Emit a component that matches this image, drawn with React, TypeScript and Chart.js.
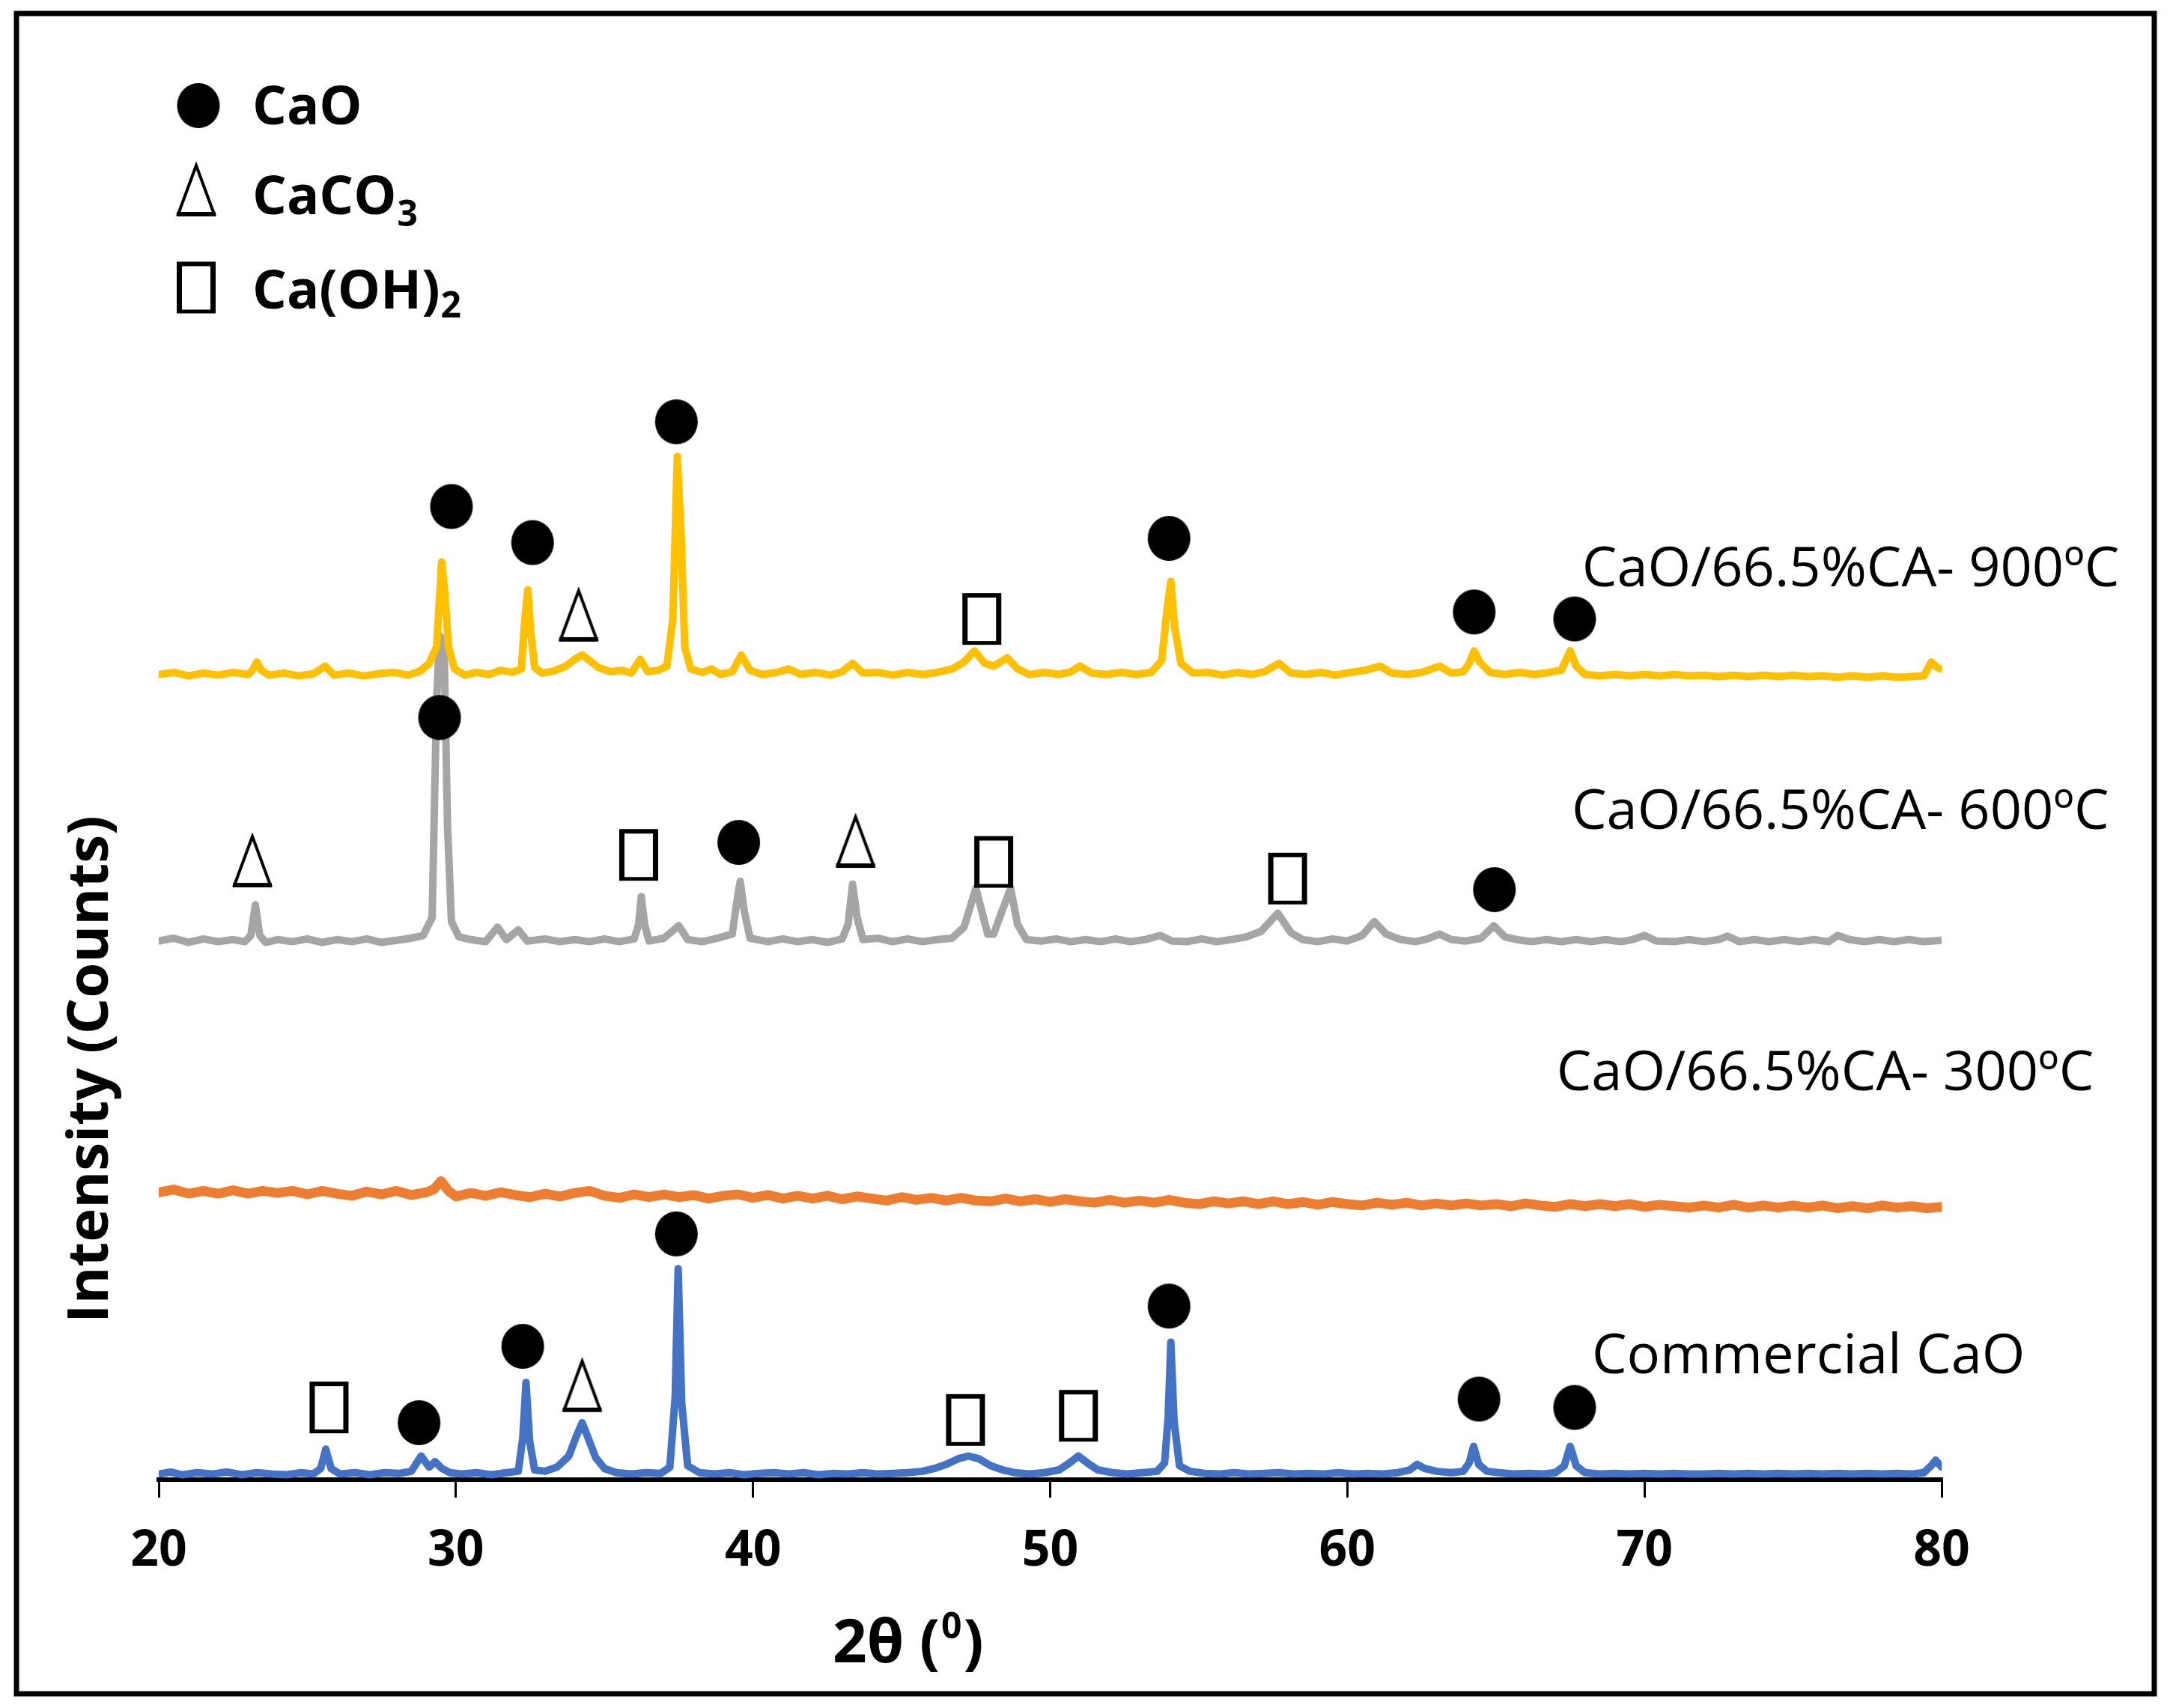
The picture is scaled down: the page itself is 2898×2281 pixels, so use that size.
import React, { useEffect, useRef } from 'react';
import { Chart, registerables } from 'chart.js';

Chart.register(...registerables);

const FONT = "'Open Sans', 'DejaVu Sans', sans-serif";

// ---------- data ----------
const xTickValues = [20, 30, 40, 50, 60, 70, 80];

// [2θ, offset intensity]
const commercialCaO: [number, number][] = [
  [20, 4], [20.4, 5.5], [20.8, 3.5], [21.3, 5], [21.8, 4], [22.3, 5.5], [22.8, 3.5], [23.3, 5], [23.8, 4], [24.3, 3.5],
  [24.8, 5], [25.2, 4], [25.45, 8], [25.62, 22], [25.8, 8], [26.1, 4], [26.6, 5], [27.1, 3.5], [27.6, 5], [28.1, 4.5],
  [28.5, 6], [28.83, 17], [29.1, 9], [29.3, 13], [29.53, 8], [29.8, 5], [30.2, 4], [30.7, 5], [31.2, 3.5], [31.7, 5],
  [32.1, 6], [32.25, 30], [32.36, 70], [32.48, 28], [32.65, 7], [33.0, 6], [33.4, 9], [33.8, 17], [34.05, 31], [34.25, 41],
  [34.45, 30], [34.7, 16], [35.0, 8], [35.4, 5], [35.9, 4], [36.4, 5], [36.9, 4.5], [37.2, 9], [37.38, 60], [37.48, 152],
  [37.6, 55], [37.8, 10], [38.2, 5], [38.7, 4], [39.2, 5], [39.7, 3.5], [40.2, 4.5], [40.7, 5], [41.2, 4], [41.7, 5],
  [42.2, 3.5], [42.7, 4.5], [43.2, 4], [43.7, 5], [44.2, 4], [44.7, 4.5], [45.2, 5], [45.7, 6], [46.1, 8], [46.5, 11],
  [46.9, 15], [47.25, 17], [47.6, 15], [48.0, 10], [48.4, 7], [48.8, 5], [49.3, 4], [49.8, 5], [50.3, 7], [50.65, 12],
  [50.95, 17], [51.25, 12], [51.6, 7], [52.1, 5], [52.6, 4], [53.1, 5], [53.6, 6], [53.85, 12], [53.97, 45], [54.06, 99],
  [54.17, 42], [54.35, 10], [54.7, 6], [55.2, 4.5], [55.7, 4], [56.2, 5], [56.7, 4], [57.2, 4.5], [57.7, 5], [58.2, 4],
  [58.7, 4.5], [59.2, 4], [59.7, 5], [60.2, 4], [60.7, 4.5], [61.2, 4], [61.7, 5], [62.1, 7], [62.35, 11], [62.6, 8],
  [63.0, 6], [63.5, 5], [63.9, 6], [64.1, 12], [64.25, 24], [64.42, 11], [64.7, 6], [65.1, 5], [65.6, 4], [66.1, 4.5],
  [66.6, 4], [67.0, 5], [67.3, 10], [67.5, 24], [67.7, 10], [68.0, 5], [68.5, 4], [69, 4.5], [69.5, 4], [70, 4.5],
  [70.5, 4], [71, 4.5], [71.5, 4], [72, 4], [72.5, 4.5], [73, 4], [73.5, 4.5], [74, 4], [74.5, 4.5], [75, 4],
  [75.5, 4.5], [76, 4], [76.5, 4.5], [77, 4], [77.5, 4.5], [78, 4], [78.5, 4.5], [79, 4], [79.4, 5], [79.65, 10],
  [79.8, 14], [80, 9],
];

const calcined300: [number, number][] = [
  [20, 207], [20.5, 209], [21, 206], [21.5, 208], [22, 206], [22.5, 208.5], [23, 206], [23.5, 208], [24, 206.5], [24.5, 208],
  [25, 205.5], [25.5, 208], [26, 206], [26.5, 204.5], [27, 207.5], [27.5, 205.5], [28, 208], [28.5, 205], [29, 207], [29.25, 209],
  [29.5, 215], [29.75, 208], [30, 204], [30.5, 206.5], [31, 204.5], [31.5, 207], [32, 205], [32.5, 203.5], [33, 206], [33.5, 204],
  [34, 206.5], [34.5, 208], [35, 204.5], [35.5, 203], [36, 205.5], [36.5, 203.5], [37, 205.5], [37.5, 203.5], [38, 205], [38.5, 202.5],
  [39, 204.5], [39.5, 205.5], [40, 203], [40.5, 205], [41, 202.5], [41.5, 204.5], [42, 202.5], [42.5, 204.5], [43, 202], [43.5, 204],
  [44, 202.5], [44.5, 201], [45, 203.5], [45.5, 201.5], [46, 203], [46.5, 201], [47, 203], [47.5, 201], [48, 200.5], [48.5, 202.5],
  [49, 200.5], [49.5, 202], [50, 200], [50.5, 202], [51, 200.5], [51.5, 199.5], [52, 201.5], [52.5, 199.5], [53, 201], [53.5, 199.5],
  [54, 201.5], [54.5, 199.5], [55, 198.5], [55.5, 200.5], [56, 199], [56.5, 200.5], [57, 198.5], [57.5, 200.5], [58, 198.5], [58.5, 200],
  [59, 198], [59.5, 200], [60, 198.5], [60.5, 197.5], [61, 199.5], [61.5, 198], [62, 199.5], [62.5, 197.5], [63, 199], [63.5, 197.5],
  [64, 199], [64.5, 197.5], [65, 198.5], [65.5, 197], [66, 199], [66.5, 197.5], [67, 196.5], [67.5, 198.5], [68, 197], [68.5, 198.5],
  [69, 197], [69.5, 198.5], [70, 196.5], [70.5, 198], [71, 197], [71.5, 196], [72, 197.5], [72.5, 196], [73, 198], [73.5, 196],
  [74, 197.5], [74.5, 196], [75, 197.5], [75.5, 196], [76, 197.5], [76.5, 195.5], [77, 197], [77.5, 195.5], [78, 197.5], [78.5, 196],
  [79, 197], [79.5, 195.5], [80, 196.5],
];

const calcined600: [number, number][] = [
  [20, 388], [20.5, 390], [21, 387], [21.5, 389.5], [22, 387.5], [22.5, 389], [22.9, 387.5], [23.1, 392], [23.25, 414], [23.4, 392],
  [23.6, 387], [24, 389], [24.5, 387.5], [25, 389.5], [25.5, 387], [26, 389], [26.5, 387.5], [27, 389.5], [27.5, 387], [28, 388.5],
  [28.5, 390], [28.9, 392], [29.2, 405], [29.35, 560], [29.45, 608], [29.6, 604], [29.72, 470], [29.85, 402], [30.1, 391], [30.5, 389],
  [31, 387.5], [31.4, 398], [31.7, 389], [32.1, 396], [32.4, 388], [33, 389.5], [33.5, 387.5], [34, 389], [34.5, 387.5], [35, 389.5],
  [35.5, 387.5], [36, 389.5], [36.15, 400], [36.24, 420], [36.35, 400], [36.5, 388], [37, 390], [37.5, 399], [37.8, 389], [38.3, 387.5],
  [38.8, 390], [39.3, 393], [39.48, 420], [39.57, 431], [39.7, 410], [39.9, 390], [40.5, 387.5], [41, 389.5], [41.5, 387.5], [42, 389],
  [42.5, 387], [43, 389.5], [43.2, 400], [43.35, 429], [43.5, 405], [43.7, 389], [44.2, 390], [44.7, 387.5], [45.2, 389.5], [45.7, 387.5],
  [46.2, 389], [46.7, 390], [47.1, 398], [47.5, 426], [47.9, 393], [48.1, 393], [48.3, 405], [48.67, 426], [48.9, 400], [49.2, 389],
  [49.7, 388], [50.2, 389.5], [50.7, 387.5], [51.2, 389], [51.7, 387.5], [52.2, 389.5], [52.7, 387.5], [53.2, 389], [53.7, 392], [54.1, 388],
  [54.6, 387.5], [55.1, 389.5], [55.6, 387.5], [56.1, 389], [56.6, 391], [57.1, 395], [57.66, 408], [58.1, 394], [58.5, 389], [59, 387.5],
  [59.5, 389.5], [60, 388], [60.5, 392], [60.91, 402], [61.3, 393], [61.8, 389], [62.3, 387.5], [62.7, 389.5], [63.1, 393], [63.5, 389],
  [64, 388], [64.5, 390], [64.93, 399], [65.3, 391], [65.7, 389], [66.2, 387.5], [66.7, 389], [67.2, 387.5], [67.7, 389], [68.2, 387.5],
  [68.7, 389], [69.2, 387.5], [69.6, 389], [70.0, 392], [70.4, 388], [71, 387.5], [71.5, 389], [72, 387.5], [72.5, 389], [72.8, 391.5],
  [73.2, 387.5], [73.7, 389], [74.2, 387.5], [74.7, 389], [75.2, 387.5], [75.7, 389], [76.2, 387.5], [76.5, 392], [76.9, 389], [77.4, 387.5],
  [77.9, 389], [78.4, 387.5], [78.9, 389], [79.4, 387.5], [80, 388.5],
];

const calcined900: [number, number][] = [
  [20, 580], [20.5, 581.5], [21, 579], [21.5, 581], [22, 579.5], [22.5, 581.5], [23, 580], [23.15, 583], [23.3, 589], [23.45, 583],
  [23.7, 579.5], [24.2, 581], [24.7, 579], [25.2, 580.5], [25.6, 586], [25.9, 579.5], [26.4, 581], [26.9, 579], [27.4, 580.5], [27.9, 581.5],
  [28.4, 579.5], [28.8, 582.5], [29.1, 588], [29.35, 600], [29.52, 661], [29.62, 640], [29.75, 600], [29.95, 584], [30.3, 579.5], [30.7, 581.5],
  [31.1, 580], [31.5, 583], [31.9, 581.5], [32.2, 584], [32.32, 620], [32.42, 641], [32.52, 610], [32.65, 585], [32.9, 581], [33.3, 582.5],
  [33.7, 586], [34.0, 591], [34.25, 594], [34.5, 590], [34.8, 585], [35.2, 582], [35.6, 583], [35.9, 581], [36.2, 591], [36.45, 582],
  [36.8, 583], [37.1, 586], [37.3, 620], [37.45, 737], [37.58, 680], [37.7, 600], [37.9, 584], [38.3, 581.5], [38.6, 584], [38.9, 580],
  [39.3, 582], [39.6, 594], [39.9, 583], [40.3, 580], [40.8, 581.5], [41.2, 584], [41.6, 580], [42.1, 581.5], [42.6, 579.5], [43.0, 582],
  [43.35, 588], [43.7, 581], [44.2, 581.5], [44.7, 579.5], [45.2, 581.5], [45.7, 580], [46.2, 581.5], [46.7, 584], [47.1, 589], [47.45, 597],
  [47.8, 588], [48.1, 586], [48.55, 592], [48.9, 584], [49.3, 580], [49.8, 581.5], [50.3, 580], [50.7, 582], [51.0, 586], [51.4, 581],
  [51.9, 580], [52.4, 581.5], [52.9, 580], [53.4, 581.5], [53.75, 590], [53.95, 630], [54.06, 647], [54.18, 615], [54.4, 588], [54.8, 581],
  [55.3, 581.5], [55.8, 579.5], [56.3, 581.5], [56.8, 580], [57.2, 582], [57.7, 588], [58.1, 581], [58.6, 580], [59.1, 581.5], [59.6, 579.5],
  [60.1, 581.5], [60.6, 583], [61.1, 586], [61.5, 581], [62, 580], [62.5, 581.5], [63.1, 586], [63.5, 581], [63.9, 582], [64.1, 588],
  [64.27, 597], [64.45, 589], [64.8, 581.5], [65.3, 580], [65.8, 581.5], [66.3, 580], [66.8, 581.5], [67.2, 583], [67.5, 597], [67.7, 586],
  [68, 580], [68.5, 579], [69, 580], [69.5, 579], [70, 580], [70.5, 579], [71, 580], [71.5, 579], [72, 579.5], [72.5, 578.5],
  [73, 579.5], [73.5, 578.5], [74, 579.5], [74.5, 578.5], [75, 579.5], [75.5, 578.5], [76, 579], [76.5, 578], [77, 579], [77.5, 578],
  [78, 579], [78.5, 578], [79, 578.5], [79.4, 579], [79.65, 589], [79.85, 585], [80, 584],
];

const seriesNames = ['Commercial CaO', 'CaO/66.5%CA- 300ºC', 'CaO/66.5%CA- 600ºC', 'CaO/66.5%CA- 900ºC'];
const seriesColors = ['#4472C4', '#ED7D31', '#A5A5A5', '#FFC000'];
const seriesWidths = [10, 13, 10, 10];
// label anchors: [2θ of left edge, intensity at text middle]
const seriesLabelAnchors: [number, number][] = [[68.23, 91], [67.04, 295], [67.55, 483], [67.9, 658]];

// phase markers [2θ, intensity]
const caoMarks: [number, number][] = [
  [29.85, 701], [32.58, 675], [37.42, 762], [54.0, 678], [64.27, 625], [67.65, 620],
  [29.45, 549], [39.52, 459], [64.95, 425],
  [28.76, 41], [32.25, 96], [37.42, 177], [54.0, 125], [64.43, 58], [67.65, 52],
];
const caco3Marks: [number, number][] = [
  [34.13, 622],
  [23.15, 445], [43.45, 459],
  [34.25, 67],
];
const caoh2Marks: [number, number][] = [
  [47.7, 620],
  [36.15, 450], [48.1, 445], [57.99, 433],
  [25.73, 52], [47.15, 43], [50.95, 46],
];

const phaseLabels = ['CaO', 'CaCO', 'Ca(OH)'];
const phaseSubscripts = ['', '3', '2'];

const xTitle = ['2θ (', '0', ')'];
const yTitle = 'Intensity (Counts)';

// ---------- marker shapes ----------
function makeEllipse(w: number, h: number) {
  const c = document.createElement('canvas');
  c.width = w + 2; c.height = h + 2;
  const g = c.getContext('2d')!;
  g.fillStyle = '#000';
  g.beginPath();
  g.ellipse(c.width / 2, c.height / 2, w / 2, h / 2, 0, 0, Math.PI * 2);
  g.fill();
  return c;
}
function makeTriangle(w: number, h: number) {
  const pad = 5;
  const c = document.createElement('canvas');
  c.width = w + pad * 2; c.height = h + pad * 2;
  const g = c.getContext('2d')!;
  g.strokeStyle = '#000';
  g.lineJoin = 'miter';
  g.lineWidth = 4;
  g.beginPath();
  g.moveTo(pad + w / 2, pad);
  g.lineTo(pad + 2, pad + h - 3);
  g.lineTo(pad + w - 2, pad + h - 3);
  g.closePath();
  g.stroke();
  g.lineWidth = 6;
  g.beginPath();
  g.moveTo(pad, pad + h - 3);
  g.lineTo(pad + w, pad + h - 3);
  g.stroke();
  return c;
}
function makeBox(w: number, h: number) {
  const pad = 2;
  const c = document.createElement('canvas');
  c.width = w + pad * 2; c.height = h + pad * 2;
  const g = c.getContext('2d')!;
  g.fillStyle = '#000';
  g.fillRect(pad, pad, w, h);
  g.clearRect(pad + 7, pad + 5.5, w - 14, h - 11);
  return c;
}

export default function App() {
  const ref = useRef<HTMLCanvasElement>(null);

  useEffect(() => {
    const canvas = ref.current!;
    const circleImg = makeEllipse(57, 60);
    const triImg = makeTriangle(52, 68);
    const boxImg = makeBox(52, 69);
    const legendImgs = [circleImg, triImg, boxImg];

    const toXY = (arr: [number, number][]) => arr.map(([x, y]) => ({ x, y }));
    const series = [commercialCaO, calcined300, calcined600, calcined900];

    const lineSets = series.map((d, i) => ({
      label: seriesNames[i],
      data: toXY(d),
      borderColor: seriesColors[i],
      backgroundColor: seriesColors[i],
      borderWidth: seriesWidths[i],
      borderJoinStyle: 'round' as const,
      borderCapStyle: 'round' as const,
      pointRadius: 0,
      tension: 0,
      fill: false,
      order: 4 - i,
    }));

    const markSets = [caoMarks, caco3Marks, caoh2Marks].map((d, i) => ({
      label: phaseLabels[i] + phaseSubscripts[i],
      data: toXY(d),
      showLine: false,
      pointStyle: legendImgs[i] as any,
      pointRadius: 10,
      borderWidth: 0,
      order: 0,
    }));

    const decor = {
      id: 'decor',
      beforeDraw(chart: any) {
        const c = chart.ctx;
        c.save();
        c.fillStyle = '#fff';
        c.fillRect(0, 0, chart.width, chart.height);
        c.restore();
      },
      afterDraw(chart: any) {
        const c = chart.ctx as CanvasRenderingContext2D;
        const xs = chart.scales.x;
        const ys = chart.scales.y;
        c.save();
        // outer frame
        c.strokeStyle = '#000';
        c.lineWidth = 7;
        c.strokeRect(22, 18, 2855, 2244);

        // legend
        const symCenters = [[265, 141], [262, 255], [262, 384]];
        const baselines = [166, 286, 412];
        const subBaselines = [0, 302, 424];
        c.fillStyle = '#000';
        c.textAlign = 'left';
        c.textBaseline = 'alphabetic';
        for (let i = 0; i < 3; i++) {
          const img = legendImgs[i];
          c.drawImage(img, symCenters[i][0] - img.width / 2, symCenters[i][1] - img.height / 2);
          c.font = `bold 72px ${FONT}`;
          c.fillText(phaseLabels[i], 337, baselines[i]);
          if (phaseSubscripts[i]) {
            const w = c.measureText(phaseLabels[i]).width;
            c.font = `bold 48px ${FONT}`;
            c.fillText(phaseSubscripts[i], 337 + w + 1, subBaselines[i]);
          }
        }

        // series labels
        c.font = `74px ${FONT}`;
        for (let i = 0; i < seriesNames.length; i++) {
          const [ax, ay] = seriesLabelAnchors[i];
          c.fillText(seriesNames[i], xs.getPixelForValue(ax), ys.getPixelForValue(ay) + 0.357 * 74);
        }

        // y title
        c.save();
        c.translate(144, 1428);
        c.rotate(-Math.PI / 2);
        c.textAlign = 'center';
        c.font = `bold 76px ${FONT}`;
        c.fillText(yTitle, 0, 0);
        c.restore();

        // x title with superscript
        let tx = 1112;
        c.font = `bold 80px ${FONT}`;
        c.fillText(xTitle[0], tx, 2220);
        tx += c.measureText(xTitle[0]).width + 2;
        c.font = `bold 48px ${FONT}`;
        c.fillText(xTitle[1], tx, 2188);
        tx += c.measureText(xTitle[1]).width + 2;
        c.font = `bold 80px ${FONT}`;
        c.fillText(xTitle[2], tx, 2220);
        c.restore();
      },
    };

    const chart = new Chart(canvas, {
      type: 'line',
      data: { datasets: [...markSets, ...lineSets] as any },
      options: {
        responsive: false,
        animation: false,
        devicePixelRatio: 1,
        events: [],
        layout: { padding: { left: 212, right: 305, top: 85, bottom: 135.8 } },
        plugins: {
          legend: { display: false },
          tooltip: { enabled: false },
          title: { display: false },
        },
        scales: {
          x: {
            type: 'linear',
            min: 20,
            max: 80,
            afterBuildTicks: (axis: any) => {
              axis.ticks = xTickValues.map((v) => ({ value: v }));
            },
            ticks: {
              font: { family: FONT, size: 66, weight: 'bold' },
              color: '#000',
              padding: 33,
              maxRotation: 0,
              autoSkip: false,
            },
            grid: {
              display: true,
              drawOnChartArea: false,
              drawTicks: true,
              tickLength: 24,
              color: '#000',
              lineWidth: 3,
            },
            border: { display: true, color: '#000', width: 6 },
          },
          y: { type: 'linear', display: false, min: 0, max: 1020 },
        },
      } as any,
      plugins: [decor],
    });
    return () => chart.destroy();
  }, []);

  return (
    <div style={{ position: 'absolute', left: 0, top: 0, width: 2898, height: 2281, background: '#fff' }}>
      <canvas ref={ref} width={2898} height={2281} style={{ width: 2898, height: 2281, display: 'block' }} />
    </div>
  );
}
